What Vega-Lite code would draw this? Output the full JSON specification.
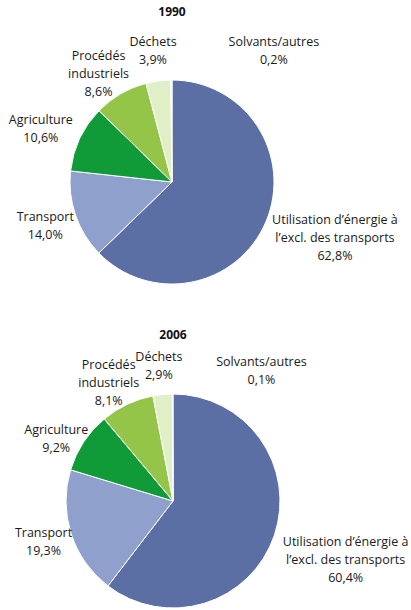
{
  "$schema": "https://vega.github.io/schema/vega-lite/v6.json",
  "padding": {"top": 6, "left": 0, "right": 0, "bottom": 0},
  "spacing": 37,
  "config": {
    "view": {"stroke": null},
    "font": "Open Sans",
    "text": {"font": "Open Sans", "fontSize": 12.5, "lineHeight": 18, "color": "#1a1a1a"}
  },
  "datasets": {
    "d1990": [
      {"rank": 1, "cat": "Utilisation d’énergie", "value": 62.8, "label": "Utilisation d’énergie à\nl’excl. des transports\n62,8%"},
      {"rank": 2, "cat": "Transport", "value": 14.0, "label": "Transport\n14,0%"},
      {"rank": 3, "cat": "Agriculture", "value": 10.6, "label": "Agriculture\n10,6%"},
      {"rank": 4, "cat": "Procédés industriels", "value": 8.6, "label": "Procédés\nindustriels\n8,6%"},
      {"rank": 5, "cat": "Déchets", "value": 3.9, "label": "Déchets\n3,9%"},
      {"rank": 6, "cat": "Solvants/autres", "value": 0.2, "label": "Solvants/autres\n0,2%"}
    ],
    "d2006": [
      {"rank": 1, "cat": "Utilisation d’énergie", "value": 60.4, "label": "Utilisation d’énergie à\nl’excl. des transports\n60,4%"},
      {"rank": 2, "cat": "Transport", "value": 19.3, "label": "Transport\n19,3%"},
      {"rank": 3, "cat": "Agriculture", "value": 9.2, "label": "Agriculture\n9,2%"},
      {"rank": 4, "cat": "Procédés industriels", "value": 8.1, "label": "Procédés\nindustriels\n8,1%"},
      {"rank": 5, "cat": "Déchets", "value": 2.9, "label": "Déchets\n2,9%"},
      {"rank": 6, "cat": "Solvants/autres", "value": 0.1, "label": "Solvants/autres\n0,1%"}
    ]
  },
  "vconcat": [
    {
      "width": 344,
      "height": 220,
      "title": {"text": "1990", "font": "Open Sans", "fontSize": 12, "fontWeight": "bold", "color": "#111", "offset": 11, "anchor": "middle"},
      "data": {"name": "d1990"},
      "encoding": {
        "theta": {"field": "value", "type": "quantitative", "stack": true},
        "order": {"field": "rank", "type": "quantitative"}
      },
      "layer": [
        {
          "mark": {"type": "arc", "outerRadius": 102, "stroke": "#ffffff", "strokeWidth": 1},
          "encoding": {
            "color": {
              "field": "cat", "type": "nominal", "legend": null,
              "scale": {
                "domain": ["Utilisation d’énergie", "Transport", "Agriculture", "Procédés industriels", "Déchets", "Solvants/autres"],
                "range": ["#5b6fa5", "#8fa0cc", "#109b38", "#95c548", "#dff0c6", "#eef2f8"]
              }
            }
          }
        },
        {
          "mark": {"type": "text", "radius": 134, "dy": -9, "lineBreak": "\n"},
          "encoding": {"text": {"condition": {"test": "datum.rank == 2", "field": "label"}, "value": ""}}
        },
        {
          "mark": {"type": "text", "radius": 145, "lineBreak": "\n"},
          "encoding": {"text": {"condition": {"test": "datum.rank == 3", "field": "label"}, "value": ""}}
        },
        {
          "mark": {"type": "text", "radius": 146, "lineBreak": "\n"},
          "encoding": {"text": {"condition": {"test": "datum.rank == 4", "field": "label"}, "value": ""}}
        },
        {
          "mark": {"type": "text", "radius": 141, "lineBreak": "\n"},
          "encoding": {"text": {"condition": {"test": "datum.rank == 5", "field": "label"}, "value": ""}}
        },
        {
          "transform": [{"filter": "datum.rank == 1"}],
          "mark": {"type": "text", "radius": 165, "dx": 11, "dy": -26, "lineBreak": "\n"},
          "encoding": {"text": {"field": "label"}}
        },
        {
          "transform": [{"filter": "datum.rank == 6"}],
          "mark": {"type": "text", "radius": 140, "dx": 101, "lineBreak": "\n"},
          "encoding": {"text": {"field": "label"}}
        }
      ]
    },
    {
      "width": 346,
      "height": 220,
      "title": {"text": "2006", "font": "Open Sans", "fontSize": 12, "fontWeight": "bold", "color": "#111", "offset": 3, "anchor": "middle"},
      "data": {"name": "d2006"},
      "encoding": {
        "theta": {"field": "value", "type": "quantitative", "stack": true},
        "order": {"field": "rank", "type": "quantitative"}
      },
      "layer": [
        {
          "mark": {"type": "arc", "outerRadius": 107, "stroke": "#ffffff", "strokeWidth": 1},
          "encoding": {
            "color": {
              "field": "cat", "type": "nominal", "legend": null,
              "scale": {
                "domain": ["Utilisation d’énergie", "Transport", "Agriculture", "Procédés industriels", "Déchets", "Solvants/autres"],
                "range": ["#5b6fa5", "#8fa0cc", "#109b38", "#95c548", "#dff0c6", "#eef2f8"]
              }
            }
          }
        },
        {
          "mark": {"type": "text", "radius": 136, "dy": -10, "lineBreak": "\n"},
          "encoding": {"text": {"condition": {"test": "datum.rank == 2", "field": "label"}, "value": ""}}
        },
        {
          "mark": {"type": "text", "radius": 140, "dy": 6, "lineBreak": "\n"},
          "encoding": {"text": {"condition": {"test": "datum.rank == 3", "field": "label"}, "value": ""}}
        },
        {
          "mark": {"type": "text", "radius": 150, "lineBreak": "\n"},
          "encoding": {"text": {"condition": {"test": "datum.rank == 4", "field": "label"}, "value": ""}}
        },
        {
          "mark": {"type": "text", "radius": 145, "lineBreak": "\n"},
          "encoding": {"text": {"condition": {"test": "datum.rank == 5", "field": "label"}, "value": ""}}
        },
        {
          "transform": [{"filter": "datum.rank == 1"}],
          "mark": {"type": "text", "radius": 177, "dx": 5, "dy": -16, "lineBreak": "\n"},
          "encoding": {"text": {"field": "label"}}
        },
        {
          "transform": [{"filter": "datum.rank == 6"}],
          "mark": {"type": "text", "radius": 139, "dx": 88, "lineBreak": "\n"},
          "encoding": {"text": {"field": "label"}}
        }
      ]
    }
  ]
}
